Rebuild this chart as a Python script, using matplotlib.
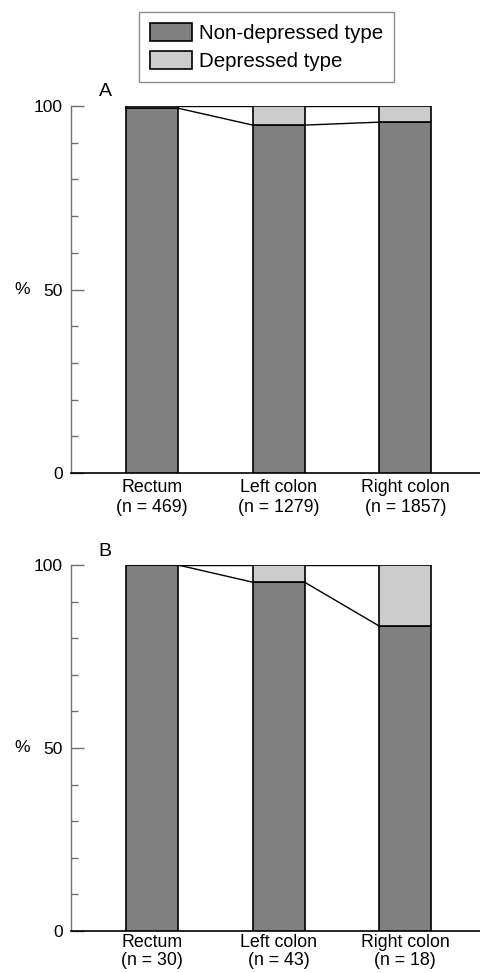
import matplotlib
matplotlib.use("Agg")
import matplotlib.pyplot as plt
from matplotlib.patches import Patch
from matplotlib.ticker import MultipleLocator

plt.rcParams['font.family'] = ['Liberation Sans', 'DejaVu Sans']

sites = ["Rectum", "Left colon", "Right colon"]
n_A = [469, 1279, 1857]
n_B = [30, 43, 18]
nondep_A = [99.4, 94.8, 95.6]
nondep_B = [100.0, 95.3, 83.3]
panels = ["A", "B"]
legend_labels = ["Non-depressed type", "Depressed type"]

DARK = "#808080"
LIGHT = "#cccccc"
FS = 12.5
FSX = 12.8

W, H = 480, 973
fig = plt.figure(figsize=(W / 100, H / 100), dpi=100)

def add_panel(top_px, bottom_px, nondep, ns, letter, pad, ls):
    left_px, right_px = 71, 480
    ax = fig.add_axes([left_px / W, 1 - bottom_px / H, (right_px - left_px) / W, (bottom_px - top_px) / H])
    x = [1, 2, 3]
    width = 0.41
    dep = [100 - v for v in nondep]
    ax.bar(x, nondep, width=width, color=DARK, edgecolor="black", linewidth=1.2, zorder=3)
    ax.bar(x, dep, width=width, bottom=nondep, color=LIGHT, edgecolor="black", linewidth=1.2, zorder=3)
    # connecting lines
    for i in range(len(x) - 1):
        xa = x[i] + width / 2
        xb = x[i + 1] - width / 2
        ax.plot([xa, xb], [nondep[i], nondep[i + 1]], color="black", lw=1.0, zorder=2)
        ax.plot([xa, xb], [100, 100], color="black", lw=1.0, zorder=2)
    ax.set_xlim(0.36, 3.59)
    ax.set_ylim(0, 100)
    ax.set_xticks(x)
    ax.set_xticklabels([f"{s}\n(n = {n})" for s, n in zip(sites, ns)], fontsize=FSX, linespacing=ls)
    ax.tick_params(axis="x", length=0, pad=pad)
    ax.set_yticks([0, 50, 100])
    ax.set_yticklabels(["0", "50", "100"], fontsize=FS)
    ax.yaxis.set_minor_locator(MultipleLocator(10))
    ax.tick_params(axis="y", which="major", direction="in", length=9.5, width=1.0, color="#707070", pad=6)
    ax.tick_params(axis="y", which="minor", direction="in", length=5, width=1.0, color="#707070")
    for s in ["top", "right"]:
        ax.spines[s].set_visible(False)
    ax.spines["left"].set_color("#707070")
    ax.spines["left"].set_linewidth(1.0)
    ax.spines["bottom"].set_color("black")
    ax.spines["bottom"].set_linewidth(1.2)
    ax.set_facecolor("none")
    mid = (top_px + bottom_px) / 2
    fig.text(22 / W, 1 - mid / H, "%", fontsize=FS, ha="center", va="center")
    fig.text(105 / W, 1 - (top_px - 14) / H, letter, fontsize=14, ha="center", va="center")
    return ax

add_panel(106, 473, nondep_A, n_A, panels[0], 4, 1.3)
add_panel(565, 931, nondep_B, n_B, panels[1], 2, 1.12)

handles = [Patch(facecolor=DARK, edgecolor="black", linewidth=1.2),
           Patch(facecolor=LIGHT, edgecolor="black", linewidth=1.2)]
leg = fig.legend(handles, legend_labels, loc="upper left",
                 bbox_to_anchor=(139 / W, 1 - 12 / H), fontsize=14.8,
                 frameon=True, fancybox=False, handlelength=2.05, handleheight=0.97,
                 handletextpad=0.34, labelspacing=0.42, borderpad=0.52, borderaxespad=0)
leg.get_frame().set_edgecolor("#707070")
leg.get_frame().set_linewidth(1.0)

fig.savefig("out.png", dpi=100)
